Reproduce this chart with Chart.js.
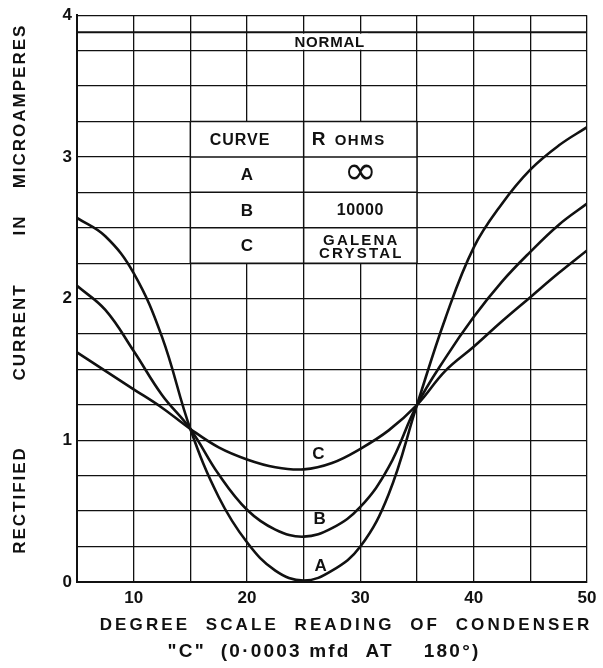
<!DOCTYPE html>
<html>
<head>
<meta charset="utf-8">
<script src="https://cdn.jsdelivr.net/npm/chart.js@4.4.1/dist/chart.umd.min.js"></script>
<style>
  html, body { margin: 0; padding: 0; background: #fff; }
  #wrap { width: 603px; height: 668px; }
</style>
</head>
<body>
<div id="wrap"><canvas id="rectChart"></canvas></div>
<script>
// condenser dial reading (degrees) and rectified current (microamperes)
const degrees = [5, 7.5, 10, 12.5, 15, 17.5, 20, 22.5, 25, 27.5, 30, 32.5, 35, 37.5, 40, 42.5, 45, 47.5, 50];
const curveA = [2.57, 2.44, 2.18, 1.73, 1.08, 0.60, 0.28, 0.08, 0.01, 0.08, 0.25, 0.62, 1.25, 1.86, 2.36, 2.67, 2.91, 3.08, 3.21];
const curveB = [2.09, 1.92, 1.63, 1.32, 1.08, 0.76, 0.51, 0.37, 0.32, 0.38, 0.53, 0.81, 1.25, 1.58, 1.87, 2.12, 2.33, 2.52, 2.67];
const curveC = [1.62, 1.49, 1.36, 1.23, 1.08, 0.95, 0.865, 0.81, 0.795, 0.84, 0.94, 1.07, 1.25, 1.49, 1.66, 1.84, 2.01, 2.18, 2.34];

const xTickLabels = [10, 20, 30, 40, 50];
const yTickLabels = [0, 1, 2, 3, 4];
const normalLevel = 3.88;

const tableHeader = ['CURVE', 'R', 'OHMS'];
const tableCurves = ['A', 'B', 'C'];
const tableOhms = ['\u221E', '10000', 'GALENA\nCRYSTAL'];

const xTitle = ['DEGREE  SCALE  READING  OF  CONDENSER', '"C"  (0\u00B70003 mfd  AT    180\u00B0)'];
const yTitleWords = ['RECTIFIED', 'CURRENT', 'IN', 'MICROAMPERES'];

const ink = '#111';
const FONT = '"Liberation Sans", Arial, Helvetica, sans-serif';

function toPoints(ys) {
    return degrees.map((d, i) => ({ x: d, y: ys[i] }));
}

function hLine(ctx, x1, x2, y) {
    ctx.beginPath();
    ctx.moveTo(x1, y);
    ctx.lineTo(x2, y);
    ctx.stroke();
}

function vLine(ctx, x, y1, y2) {
    ctx.beginPath();
    ctx.moveTo(x, y1);
    ctx.lineTo(x, y2);
    ctx.stroke();
}

// NORMAL line and the little key table, drawn over the grid
const annotations = {
    id: 'annotations',
    beforeDatasetsDraw(chart) {
        const { ctx, chartArea, scales: { x, y } } = chart;
        ctx.save();
        ctx.strokeStyle = ink;
        ctx.fillStyle = ink;

        // normal line
        const ny = y.getPixelForValue(normalLevel);
        ctx.lineWidth = 2;
        hLine(ctx, chartArea.left, chartArea.right, ny);

        ctx.font = 'bold 15px ' + FONT;
        ctx.letterSpacing = '0.8px';
        const nw = ctx.measureText('NORMAL').width;
        const nx = x.getPixelForValue(27.3);
        const boxTop = ny + 1.5;
        const boxBottom = y.getPixelForValue(3.75) - 1;
        ctx.fillStyle = '#fff';
        ctx.fillRect(nx - nw / 2 - 3, boxTop, nw + 6, boxBottom - boxTop);
        ctx.fillStyle = ink;
        ctx.textAlign = 'center';
        ctx.textBaseline = 'middle';
        ctx.fillText('NORMAL', nx, (boxTop + boxBottom) / 2 + 1);

        // key table
        const left = x.getPixelForValue(15);
        const mid = x.getPixelForValue(25);
        const right = x.getPixelForValue(35);
        const top = y.getPixelForValue(3.25);
        const bottom = y.getPixelForValue(2.25);
        ctx.fillStyle = '#fff';
        ctx.fillRect(left, top, right - left, bottom - top);
        ctx.lineWidth = 1.5;
        for (let i = 0; i <= 4; i++) {
            hLine(ctx, left, right, y.getPixelForValue(3.25 - i * 0.25));
        }
        vLine(ctx, left, top, bottom);
        vLine(ctx, mid, top, bottom);
        vLine(ctx, right, top, bottom);

        ctx.fillStyle = ink;
        const rowMid = i => (y.getPixelForValue(3.25 - i * 0.25) + y.getPixelForValue(3.0 - i * 0.25)) / 2;
        const c1 = (left + mid) / 2;
        const c2 = (mid + right) / 2;

        ctx.font = 'bold 16px ' + FONT;
        ctx.letterSpacing = '1px';
        ctx.fillText(tableHeader[0], c1 - 7, rowMid(0) + 1);
        ctx.textAlign = 'left';
        ctx.font = 'bold 19px ' + FONT;
        ctx.letterSpacing = '0px';
        ctx.fillText(tableHeader[1], mid + 8, rowMid(0) + 1);
        ctx.font = 'bold 15px ' + FONT;
        ctx.letterSpacing = '1.5px';
        ctx.fillText(tableHeader[2], mid + 31, rowMid(0) + 2);

        ctx.textAlign = 'center';
        tableCurves.forEach((name, i) => {
            ctx.font = 'bold 17px ' + FONT;
            ctx.letterSpacing = '0px';
            ctx.fillText(name, c1, rowMid(i + 1) + 1);
            const val = tableOhms[i];
            if (val === '\u221E') {
                ctx.font = '40px "DejaVu Sans", ' + FONT;
                ctx.fillText(val, c2, rowMid(i + 1) - 1);
            } else if (val.includes('\n')) {
                ctx.font = 'bold 15px ' + FONT;
                ctx.letterSpacing = '2.2px';
                const lines = val.split('\n');
                ctx.fillText(lines[0], c2 + 1, rowMid(i + 1) - 5);
                ctx.fillText(lines[1], c2 + 1, rowMid(i + 1) + 8);
            } else {
                ctx.font = 'bold 16px ' + FONT;
                ctx.letterSpacing = '0.5px';
                ctx.fillText(val, c2, rowMid(i + 1) + 1);
            }
        });
        ctx.restore();
    },
    afterDatasetsDraw(chart) {
        const { ctx, scales: { x, y } } = chart;
        // curve letters sit just right of the minimum
        const spots = [[26.5, 0.11], [26.4, 0.44], [26.3, 0.90]];
        ctx.save();
        ctx.fillStyle = ink;
        ctx.font = 'bold 17px ' + FONT;
        ctx.textAlign = 'center';
        ctx.textBaseline = 'middle';
        tableCurves.forEach((name, i) => {
            ctx.fillText(name, x.getPixelForValue(spots[i][0]), y.getPixelForValue(spots[i][1]));
        });
        ctx.restore();
    },
    afterDraw(chart) {
        const { ctx } = chart;
        ctx.save();
        ctx.fillStyle = ink;
        ctx.textAlign = 'center';
        ctx.textBaseline = 'middle';

        ctx.font = 'bold 17px ' + FONT;
        ctx.letterSpacing = '3.1px';
        ctx.fillText(xTitle[0], 346, 625);
        ctx.font = 'bold 19px ' + FONT;
        ctx.letterSpacing = '2.2px';
        ctx.fillText(xTitle[1], 324, 652);

        // vertical title, one word at a time
        const wordCentres = [501, 333, 226, 107];
        ctx.font = 'bold 17px ' + FONT;
        ctx.letterSpacing = '2px';
        yTitleWords.forEach((w, i) => {
            ctx.save();
            ctx.translate(20, wordCentres[i]);
            ctx.rotate(-Math.PI / 2);
            ctx.fillText(w, 1, 0);
            ctx.restore();
        });
        ctx.restore();
    }
};

const ctx = document.getElementById('rectChart').getContext('2d');

const lineStyle = {
    borderColor: ink,
    borderWidth: 2.6,
    pointRadius: 0,
    fill: false,
    tension: 0.4,
    capBezierPoints: false
};

const rectChart = new Chart(ctx, {
    type: 'line',
    data: {
        datasets: [
            { label: 'A', data: toPoints(curveA), ...lineStyle },
            { label: 'B', data: toPoints(curveB), ...lineStyle },
            { label: 'C', data: toPoints(curveC), ...lineStyle }
        ]
    },
    options: {
        responsive: true,
        maintainAspectRatio: false,
        animation: false,
        layout: {
            padding: { top: 15, right: 16, left: 0, bottom: 0 }
        },
        plugins: {
            legend: { display: false },
            tooltip: { enabled: false }
        },
        scales: {
            x: {
                type: 'linear',
                min: 5,
                max: 50,
                border: { color: ink, width: 2 },
                grid: { color: ink, lineWidth: 1.3, drawTicks: false },
                ticks: {
                    stepSize: 5,
                    padding: 6,
                    color: ink,
                    maxRotation: 0,
                    autoSkip: false,
                    font: { family: FONT, size: 17, weight: 'bold' },
                    callback: (v) => xTickLabels.includes(v) ? String(v) : ''
                },
                afterFit: (s) => { s.height = 86; }
            },
            y: {
                min: 0,
                max: 4,
                border: { color: ink, width: 2 },
                grid: { color: ink, lineWidth: 1.3, drawTicks: false },
                ticks: {
                    stepSize: 0.25,
                    padding: 5,
                    color: ink,
                    autoSkip: false,
                    font: { family: FONT, size: 17, weight: 'bold' },
                    callback: (v) => yTickLabels.includes(v) ? String(v) : ''
                },
                afterFit: (s) => { s.width = 77; }
            }
        }
    },
    plugins: [annotations]
});
</script>
</body>
</html>
